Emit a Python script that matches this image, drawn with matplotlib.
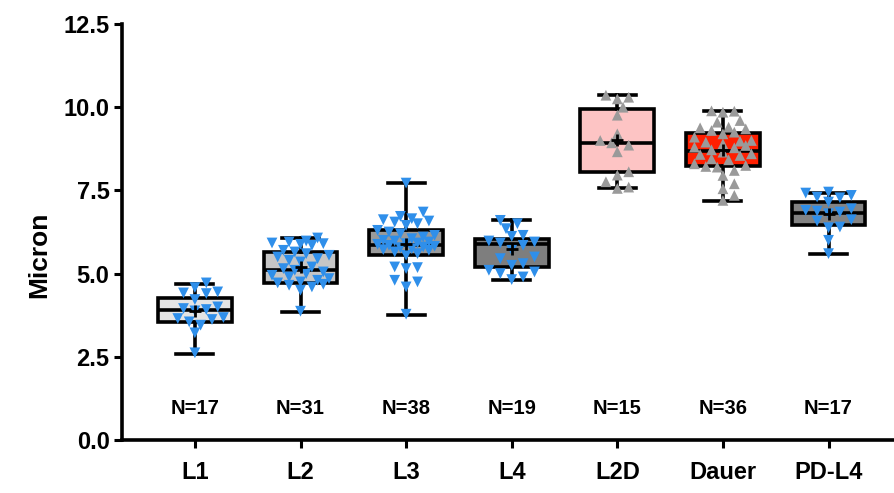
import matplotlib
matplotlib.use("Agg")
import matplotlib.pyplot as plt
import numpy as np

plt.rcParams['font.family'] = ['Liberation Sans', 'DejaVu Sans']
plt.rcParams['font.weight'] = 'bold'

categories = ["L1", "L2", "L3", "L4", "L2D", "Dauer", "PD-L4"]
n_labels = ["N=17", "N=31", "N=38", "N=19", "N=15", "N=36", "N=17"]

# box statistics (min, q1, median, q3, max, mean)
box_min = [2.58, 3.85, 3.76, 4.80, 7.56, 7.19, 5.58]
box_q1 = [3.55, 4.72, 5.55, 5.20, 8.06, 8.23, 6.46]
box_med = [3.90, 5.10, 5.85, 5.88, 8.93, 8.68, 6.81]
box_q3 = [4.27, 5.65, 6.30, 6.05, 9.96, 9.23, 7.16]
box_max = [4.70, 6.07, 7.72, 6.60, 10.36, 9.89, 7.42]
box_mean = [3.88, 5.20, 5.90, 5.75, 9.00, 8.72, 6.80]

vals_L1 = [4.72, 4.58, 4.45, 4.42, 4.40, 4.22, 4.00, 3.95, 3.92, 3.88, 3.68, 3.65,
           3.62, 3.55, 3.45, 3.22, 2.62]
vals_L2 = [6.07, 5.98, 5.95, 5.92, 5.90, 5.88, 5.85, 5.70, 5.65, 5.60, 5.55, 5.50,
           5.45, 5.40, 5.35, 5.20, 5.15, 5.10, 5.05, 5.00, 4.95, 4.90, 4.85, 4.80,
           4.75, 4.72, 4.68, 4.65, 4.60, 4.50, 3.87]
vals_L3 = [7.72, 6.85, 6.72, 6.65, 6.62, 6.58, 6.55, 6.50, 6.45, 6.30, 6.25, 6.20,
           6.15, 6.10, 6.05, 6.00, 5.98, 5.95, 5.92, 5.90, 5.88, 5.85, 5.82, 5.80,
           5.78, 5.75, 5.72, 5.70, 5.65, 5.60, 5.55, 5.20, 5.18, 5.15, 4.80, 4.75,
           4.60, 3.78]
vals_L4 = [6.60, 6.50, 6.35, 6.15, 6.12, 5.98, 5.95, 5.92, 5.85, 5.70, 5.50, 5.45,
           5.30, 5.25, 5.10, 5.05, 5.00, 4.90, 4.82]
vals_L2D = [10.36, 10.30, 10.25, 10.00, 9.76, 9.20, 9.00, 8.93, 8.86, 8.66, 8.06,
            7.96, 7.76, 7.60, 7.56]
vals_Dauer = [9.89, 9.88, 9.85, 9.60, 9.55, 9.40, 9.38, 9.35, 9.30, 9.25, 9.20, 9.10,
              9.00, 8.98, 8.95, 8.90, 8.85, 8.80, 8.78, 8.72, 8.65, 8.60, 8.58, 8.55,
              8.45, 8.42, 8.30, 8.25, 8.22, 8.20, 8.10, 7.95, 7.70, 7.55, 7.35, 7.20]
vals_PDL4 = [7.45, 7.42, 7.35, 7.30, 7.28, 7.15, 6.95, 6.90, 6.88, 6.85, 6.80, 6.62,
             6.58, 6.40, 6.38, 6.00, 5.60]

all_vals = [vals_L1, vals_L2, vals_L3, vals_L4, vals_L2D, vals_Dauer, vals_PDL4]

box_colors = ["#e4e4e4", "#c6c6c6", "#9a9a9a", "#7e7e7e", "#fdc4c4", "#ff1f00", "#838383"]
pt_colors = ["#2f8fea"] * 4 + ["#9a9a9a", "#9a9a9a", "#2f8fea"]
pt_markers = ["v", "v", "v", "v", "^", "^", "v"]

fig = plt.figure(figsize=(8.94, 4.93), dpi=100)
ax = fig.add_axes([0.1365, 0.1075, 0.8635, 0.8438])

positions = np.arange(len(categories))
stats = []
for i in range(len(categories)):
    stats.append(dict(whislo=box_min[i], q1=box_q1[i], med=box_med[i], q3=box_q3[i],
                      whishi=box_max[i], mean=box_mean[i], fliers=[]))

bp = ax.bxp(stats, positions=positions, widths=0.70, patch_artist=True,
            showmeans=False, showfliers=False,
            boxprops=dict(linewidth=2.6, edgecolor="black"),
            medianprops=dict(color="black", linewidth=2.6),
            whiskerprops=dict(color="black", linewidth=2.6),
            capprops=dict(color="black", linewidth=2.6),
            capwidths=0.35, zorder=2)
for patch, c in zip(bp['boxes'], box_colors):
    patch.set_facecolor(c)

# swarm-like placement (pixel space), kept within the box width
xlim = (-0.69, 6.62)
ylim = (0, 12.5)
ax_w_px = 0.8635 * 894
ax_h_px = 0.8438 * 493
px_x = ax_w_px / (xlim[1] - xlim[0])
px_y = ax_h_px / (ylim[1] - ylim[0])
diam = 9.5
step = diam * 0.6
max_off = 32.0

for i, vals in enumerate(all_vals):
    v = np.sort(np.array(vals))
    placed = []
    xs = []
    cands = [0.0]
    k = 1
    while k * step <= max_off:
        cands += [k * step, -k * step]
        k += 1
    for val in v:
        yp = val * px_y
        best, best_d = None, -1
        for off in cands:
            dmin = min([np.hypot(ox - off, oy - yp) for (ox, oy) in placed] + [1e9])
            if dmin >= diam:
                best = off
                break
            if dmin > best_d:
                best_d, best = dmin, off
        placed.append((best, yp))
        xs.append(positions[i] + best / px_x)
    ax.scatter(xs, v, marker=pt_markers[i], s=60, color=pt_colors[i],
               edgecolors='none', zorder=3)
    # mean marker
    ax.plot([positions[i]], [box_mean[i]], marker='+', color='black', ms=8, mew=2, zorder=4)
    ax.text(positions[i], 0.95, n_labels[i], ha='center', va='center',
            fontsize=14.5, fontweight='bold')

ax.set_xlim(*xlim)
ax.set_ylim(*ylim)
ax.set_yticks([0, 2.5, 5.0, 7.5, 10.0, 12.5])
ax.set_yticklabels(["0.0", "2.5", "5.0", "7.5", "10.0", "12.5"])
ax.set_xticks(positions)
ax.set_xticklabels(categories)
ax.tick_params(axis='both', labelsize=17, width=2.2, length=6, direction='out')
for lab in ax.get_xticklabels() + ax.get_yticklabels():
    lab.set_fontweight('bold')
ax.tick_params(axis='x', pad=9)
ax.tick_params(axis='y', pad=3)
ax.set_ylabel("Micron", fontsize=19, fontweight='bold')
ax.yaxis.set_label_coords(-0.092, 0.445)
for s in ['top', 'right']:
    ax.spines[s].set_visible(False)
for s in ['left', 'bottom']:
    ax.spines[s].set_linewidth(2.6)

fig.savefig("out.png", dpi=100)
